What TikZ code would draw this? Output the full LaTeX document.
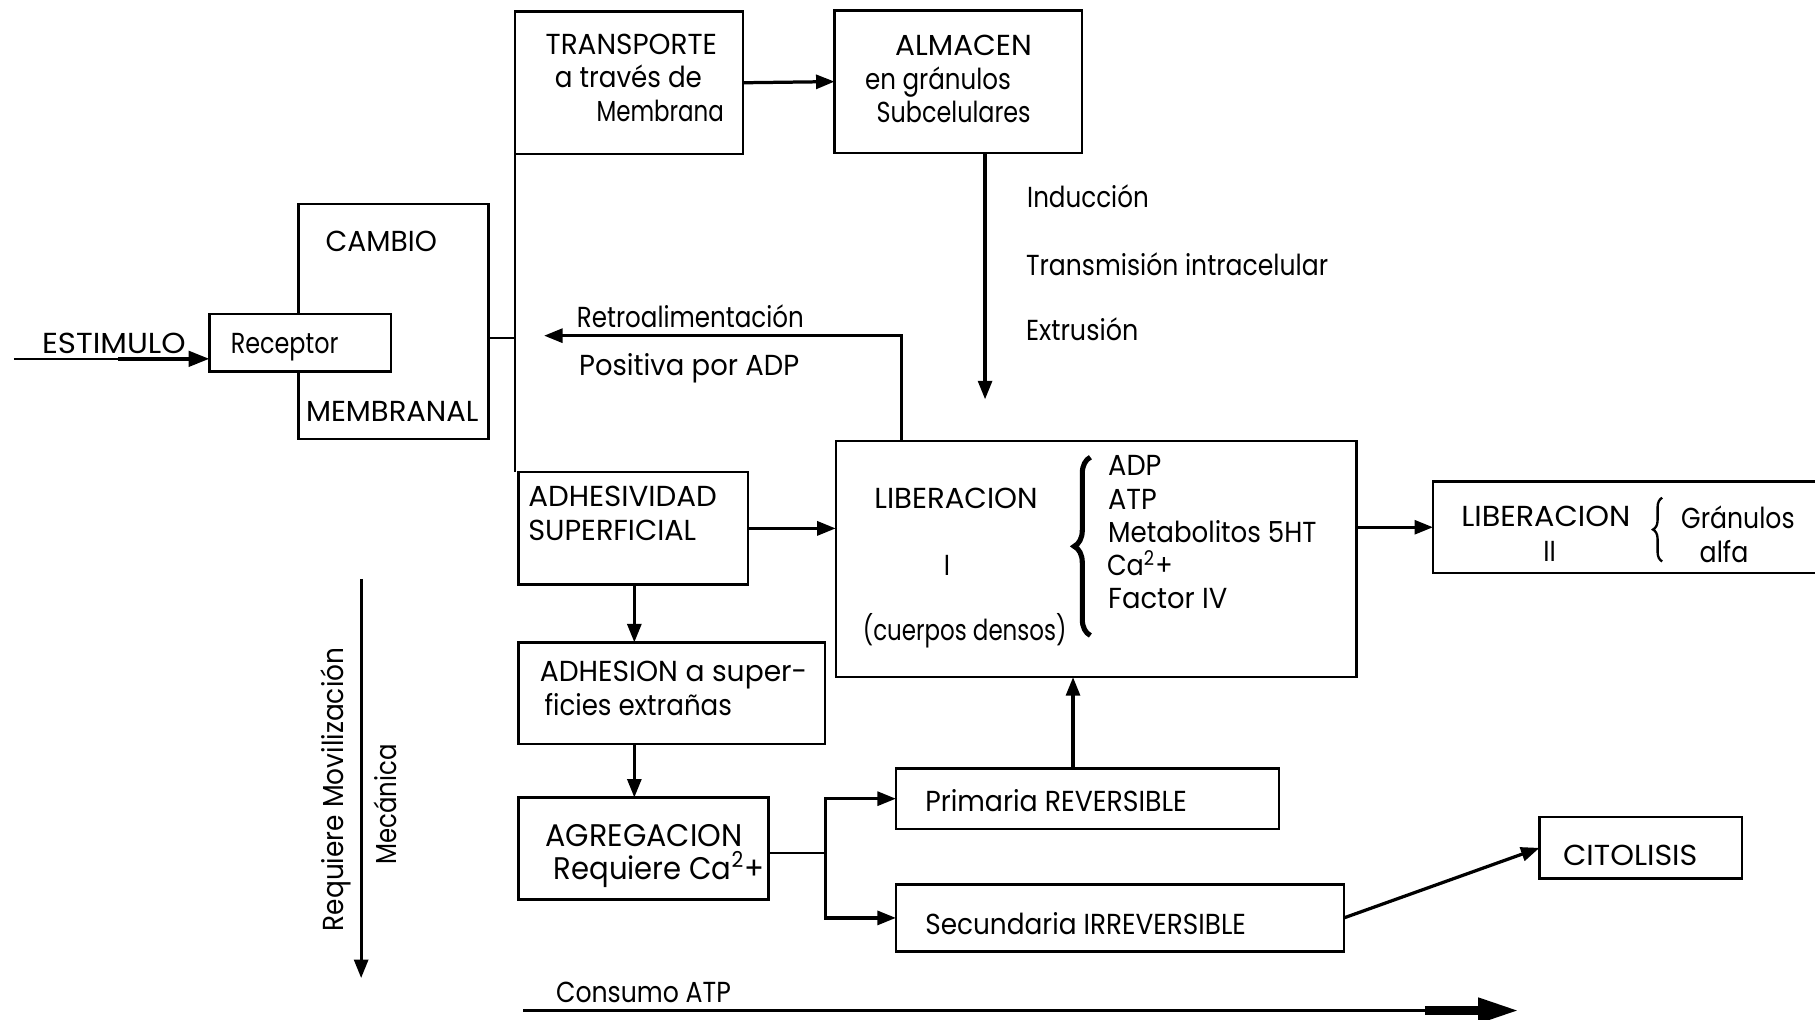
\documentclass[tikz,border=0pt]{standalone}
\usepackage{fontspec}
\usepackage{graphicx}
\setmainfont[FakeStretch=0.88]{Poppins}
\usetikzlibrary{arrows.meta,decorations.pathreplacing}
\tikzset{
  bx/.style={draw, line width=1pt, fill=white, inner sep=0pt, outer sep=0pt},
  lbl/.style={inner sep=0pt, anchor=base west, font=\fontsize{12.5}{14}\selectfont},
  big/.style={font=\fontsize{13.5}{15}\selectfont},
  arr/.style={line width=1.4pt, -{Triangle[length=8pt,width=6pt]}},
  ln/.style={line width=1pt},
  brc/.style={decorate, decoration={brace, amplitude=#1}},
}
\newcommand\mkbox[5]{\node[bx, minimum width={(#4-#2)*0.5pt}, minimum height={(#5-#3)*0.5pt}] (#1) at ({(#2+#4)/2},{(#3+#5)/2}) {};}
\newcommand\tw[2]{\resizebox{#1pt}{\height}{#2}}
\begin{document}
\begin{tikzpicture}[x=0.5pt,y=-0.5pt]
\useasboundingbox (0,0) rectangle (1568,881);
% boxes
\mkbox{cambio}{258}{176}{422}{379}
\mkbox{receptor}{181}{271}{338}{321}
\mkbox{transp}{445}{10}{642}{133}
\mkbox{almacen}{721}{9}{935}{132}
\mkbox{adhes}{448}{408}{646}{505}
\mkbox{lib}{722}{381}{1172}{585}
\mkbox{libb}{1238}{416}{1580}{495}
\mkbox{adhesion}{448}{555}{713}{643}
\mkbox{agreg}{448}{689}{664}{777}
\mkbox{prim}{774}{664}{1105}{716}
\mkbox{secu}{774}{764}{1161}{822}
\mkbox{cito}{1330}{706}{1505}{759}
% texts
\node[lbl] (tEst) at (36,305) {\tw{62}{ESTIMULO}};
\node[lbl] (tRec) at (199,305) {\tw{46.5}{Receptor}};
\node[lbl] (tCam) at (281,217) {\tw{48}{CAMBIO}};
\node[lbl] (tMem) at (264,364) {\tw{74.5}{MEMBRANAL}};
\node[lbl] (tTr1) at (471,47) {\tw{74}{TRANSPORTE}};
\node[lbl] (tTr2) at (479,76) {\tw{63.5}{a través de}};
\node[lbl] (tTr3) at (515,105) {\tw{55}{Membrana}};
\node[lbl] (tAl1) at (773,48) {\tw{59}{ALMACEN}};
\node[lbl] (tAl2) at (747,77) {\tw{63}{en gránulos}};
\node[lbl] (tAl3) at (757,106) {\tw{66.5}{Subcelulares}};
\node[lbl] (tInd) at (887,179) {\tw{52.5}{Inducción}};
\node[lbl] (tTra) at (886,238) {\tw{130.5}{Transmisión intracelular}};
\node[lbl] (tExt) at (886,294) {\tw{48.5}{Extrusión}};
\node[lbl] (tRe1) at (498,283) {\tw{98}{Retroalimentación}};
\node[lbl] (tRe2) at (500,324) {\tw{95}{Positiva por ADP}};
\node[lbl] (tAd1) at (456,438) {\tw{81.5}{ADHESIVIDAD}};
\node[lbl] (tAd2) at (456,467) {\tw{72.5}{SUPERFICIAL}};
\node[lbl] (tLi1) at (755,439) {\tw{70.5}{LIBERACION}};
\node[lbl] (tLi2) at (815,497) {I};
\node[lbl] (tLi3) at (745,553) {\tw{88}{(cuerpos densos)}};
\node[lbl] (tADP) at (957,411) {\tw{23}{ADP}};
\node[lbl] (tATP) at (957,440) {\tw{21}{ATP}};
\node[lbl] (tMet) at (957,469) {\tw{90}{Metabolitos 5HT}};
\node[lbl] (tCa) at (956,497) {Ca\textsuperscript{2}+};
\node[lbl] (tFac) at (957,526) {\tw{51.5}{Factor IV}};
\node[lbl] (tLb1) at (1262,455) {\tw{73}{LIBERACION}};
\node[lbl] (tLb2) at (1333,485) {II};
\node[lbl] (tGr1) at (1452,457) {\tw{49}{Gránulos}};
\node[lbl] (tGr2) at (1468,486) {\tw{21}{alfa}};
\node[lbl] (tAh1) at (466,589) {\tw{115.5}{ADHESION a super-}};
\node[lbl] (tAh2) at (470,618) {\tw{81}{ficies extrañas}};
\node[lbl, big] (tAg1) at (471,731) {\tw{85}{AGREGACION}};
\node[lbl, big] (tAg2) at (478,760) {\tw{91}{Requiere Ca\textsuperscript{2}+}};
\node[lbl] (tPri) at (799,701) {\tw{113}{Primaria REVERSIBLE}};
\node[lbl] (tSec) at (799,807) {\tw{138.5}{Secundaria IRREVERSIBLE}};
\node[lbl] (tCit) at (1350,748) {\tw{58}{CITOLISIS}};
\node[lbl] (tCon) at (480,866) {\tw{75.5}{Consumo ATP}};
\node[lbl, anchor=center, rotate=90] (tMov) at (290,682) {\tw{122.5}{Requiere Movilización}};
\node[lbl, anchor=center, rotate=90] (tMec) at (333,695) {\tw{52}{Mecánica}};
% braces
\draw[line width=2.2pt, brc=7pt] (942,549) -- (942,395);
\draw[line width=1pt, brc=4pt] (1436,485) -- (1436,430);
% coordinates
\coordinate (s0) at (12,310);
\coordinate (s1) at (102,310);
\coordinate (sp) at (446,292);
\coordinate (rt) at (779,290);
\coordinate (rtEnd) at (470,290);
\coordinate (ad) at (851,345);
\coordinate (dx) at (548,0);
\coordinate (br) at (713,737);
\coordinate (up) at (927,0);
\coordinate (v1) at (312,500);
\coordinate (v2) at (312,845);
\coordinate (b1) at (452,873);
\coordinate (b2) at (1313,873);
\coordinate (bk) at (1231,873);
% connectors
\draw[ln] (s0) -- (s1);
\draw[line width=1.8pt, -{Triangle[length=9pt,width=6.5pt]}] (s1) -- (s1 -| receptor.west);
\draw[ln] (cambio.east |- sp) -- (sp);
\draw[ln] (transp.south west) -- (transp.south west |- adhes.north);
\draw[arr] (transp.east) -- (almacen.west);
\draw[arr] (almacen.south -| ad) -- (ad);
\draw[arr] (rt |- lib.north) -- (rt) -- (rtEnd);
\draw[arr] (adhes.east) -- (adhes.east -| lib.west);
\draw[arr] (lib.east |- libb.west) -- (libb.west);
\draw[arr] (adhes.south -| dx) -- (adhesion.north -| dx);
\draw[arr] (adhesion.south -| dx) -- (agreg.north -| dx);
\draw[ln] (agreg.east |- br) -- (br);
\draw[arr] (br) |- (prim.west);
\draw[arr] (br) |- (secu.west);
\draw[arr] (prim.north -| up) -- (lib.south -| up);
\draw[arr] (secu.east) -- (cito.west);
\draw[arr] (v1) -- (v2);
\draw[ln] (b1) -- (bk);
\draw[line width=4pt, -{Triangle[length=18pt,width=10pt]}] (bk) -- (b2);
\end{tikzpicture}
\end{document}
